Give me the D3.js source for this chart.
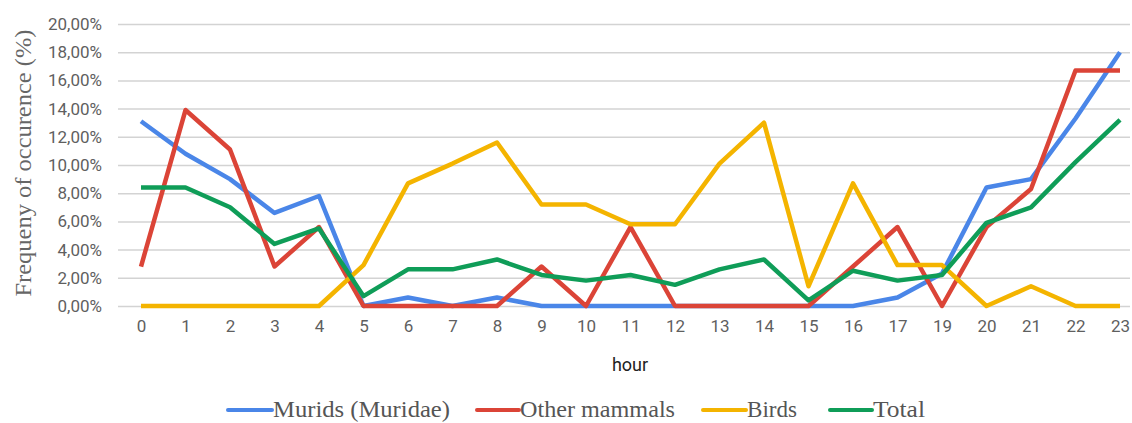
<!DOCTYPE html>
<html>
<head>
<meta charset="utf-8">
<script src="https://cdn.jsdelivr.net/npm/d3@7"></script>
<style>
  body { margin: 0; background: #fff; }
  svg { display: block; }
</style>
</head>
<body>
<svg id="chart" width="1132" height="423"></svg>
<script>
// hours on the x axis (there is no 18 in the source)
const hours = ["0","1","2","3","4","5","6","7","8","9","10","11","12","13","14","15","16","17","19","20","21","22","23"]

// frequency of occurence, in %
const murids = [13.1,10.8,9.0,6.6,7.8,0,0.6,0,0.6,0,0,0,0,0,0,0,0,0.6,2.3,8.4,9.0,13.3,18.0]
const otherMammals = [2.8,13.9,11.1,2.8,5.6,0,0,0,0,2.8,0,5.6,0,0,0,0,2.8,5.6,0,5.6,8.3,16.7,16.7]
const birds = [0,0,0,0,0,2.9,8.7,10.1,11.6,7.2,7.2,5.8,5.8,10.1,13.0,1.4,8.7,2.9,2.9,0,1.4,0,0]
const total = [8.4,8.4,7.0,4.4,5.5,0.7,2.6,2.6,3.3,2.2,1.8,2.2,1.5,2.6,3.3,0.4,2.5,1.8,2.2,5.9,7.0,10.2,13.2]

const seriesNames = ["Murids (Muridae)","Other mammals","Birds","Total"]
const seriesColors = ["#4a86e8","#db4437","#f4b400","#0f9d58"]
const seriesValues = [murids,otherMammals,birds,total]

const svg = d3.select("#chart")
const plotLeft = 118, plotRight = 1130, plotTop = 24, plotBottom = 306

const x = d3.scalePoint().domain(hours).range([141,1120])
const y = d3.scaleLinear().domain([0,20]).range([plotBottom,plotTop])

const pct = d3.formatLocale({decimal:",",thousands:".",grouping:[3],currency:["","€"]}).format(".2f")

// grid + y labels
const yAxis = d3.axisLeft(y).tickValues(d3.range(0,21,2)).tickSize(-(plotRight-plotLeft)).tickPadding(16).tickFormat(d=>pct(d)+"%")
const gy = svg.append("g").attr("transform",`translate(${plotLeft},0)`).call(yAxis)
gy.select(".domain").remove()
gy.selectAll("line").attr("stroke","#d3d3d3").attr("stroke-width",1.5)
gy.selectAll("text").attr("fill","#5f5f5f").attr("font-family","Roboto, Arial, sans-serif").attr("font-size",17)

// x labels
const xAxis = d3.axisBottom(x).tickSize(0).tickPadding(14)
const gx = svg.append("g").attr("transform",`translate(0,${plotBottom})`).call(xAxis)
gx.select(".domain").remove()
gx.selectAll("text").attr("fill","#5f5f5f").attr("font-family","Roboto, Arial, sans-serif").attr("font-size",17)

// axis titles
svg.append("text").attr("x",630).attr("y",371).attr("text-anchor","middle")
  .attr("font-family","Roboto, Arial, sans-serif").attr("font-size",18).attr("fill","#222").text("hour")
svg.append("text").attr("transform","translate(31,163) rotate(-90)").attr("text-anchor","middle")
  .attr("font-family","'Liberation Serif', 'Times New Roman', serif").attr("font-size",23).attr("fill","#666")
  .attr("textLength",267).attr("lengthAdjust","spacingAndGlyphs").text("Frequeny of occurence (%)")

// lines
const line = d3.line().x((d,i)=>x(hours[i])).y(d=>y(d))
seriesValues.forEach((vals,i)=>{
  svg.append("path").datum(vals).attr("d",line).attr("fill","none")
    .attr("stroke",seriesColors[i]).attr("stroke-width",4.5).attr("stroke-linejoin","round")
})

// legend
const legendPos = [[228,273,177],[477,520,155],[703,747,50],[830,873,52]]
const legend = svg.append("g")
seriesNames.forEach((name,i)=>{
  const p = legendPos[i]
  legend.append("line").attr("x1",p[0]).attr("x2",p[1]-1).attr("y1",410).attr("y2",410)
    .attr("stroke",seriesColors[i]).attr("stroke-width",4).attr("stroke-linecap","round")
  legend.append("text").attr("x",p[1]).attr("y",417)
    .attr("font-family","'Liberation Serif', 'Times New Roman', serif").attr("font-size",24).attr("fill","#555")
    .attr("textLength",p[2]).attr("lengthAdjust","spacingAndGlyphs").text(name)
})
</script>
</body>
</html>
